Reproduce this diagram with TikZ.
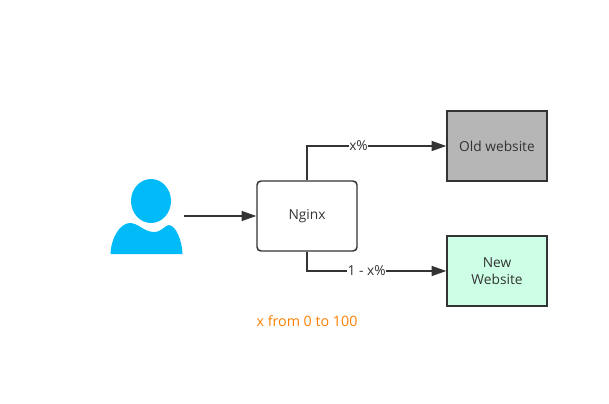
\documentclass[tikz,border=0pt]{standalone}
\usepackage{xcolor}
\usepackage{fontspec}
\setmainfont{Open Sans}
\usetikzlibrary{arrows.meta, positioning}
\definecolor{userblue}{RGB}{0,187,247}
\definecolor{linegray}{RGB}{51,51,51}
\definecolor{oldgray}{RGB}{182,182,182}
\definecolor{newgreen}{RGB}{204,255,230}
\definecolor{noteorange}{RGB}{255,128,0}

\begin{document}
\begin{tikzpicture}[
    x=0.75pt, y=-0.75pt,
    site/.style={rectangle, draw=linegray, line width=1.1pt, minimum width=75pt, minimum height=52.5pt, align=center, text=linegray, font=\fontsize{10.3}{12.8}\selectfont},
    proxy/.style={site, rounded corners=3pt},
    edgelabel/.style={fill=white, inner sep=0.5pt, text=linegray, font=\fontsize{10.3}{12}\selectfont},
    arrow/.style={-{Triangle[length=11pt, width=7.5pt]}, line width=1.1pt, draw=linegray}
]
    \useasboundingbox (0, 0) rectangle (609, 403);

    % User icon
    \fill[userblue] (151, 201) ellipse [x radius=20, y radius=22];
    \fill[userblue] (110.5, 254) .. controls (111, 238) and (120, 223) .. (130, 223)
        .. controls (138, 223) and (144, 232) .. (154, 232)
        .. controls (162, 232) and (165, 225) .. (169, 225)
        .. controls (176, 226) and (182, 240) .. (182.5, 254) -- cycle;
    \coordinate (user) at (184, 216);

    % Boxes
    \node[proxy] (nginx) at (307, 216) {Nginx};
    \node[site, fill=oldgray] (old) at (497, 146) {Old website};
    \node[site, fill=newgreen] (new) at (497, 271) {New\\Website};

    % Arrows
    \draw[arrow] (user) -- (nginx.west);
    \draw[arrow] (nginx.north) |- node[edgelabel, pos=0.685] {x\%} (old.west);
    \draw[arrow] (nginx.south) |- node[edgelabel, pos=0.714] {1 - x\%} (new.west);

    % Note
    \node[text=noteorange, font=\fontsize{10.7}{12}\selectfont] (note) at (307, 321) {x from 0 to 100};
\end{tikzpicture}
\end{document}
